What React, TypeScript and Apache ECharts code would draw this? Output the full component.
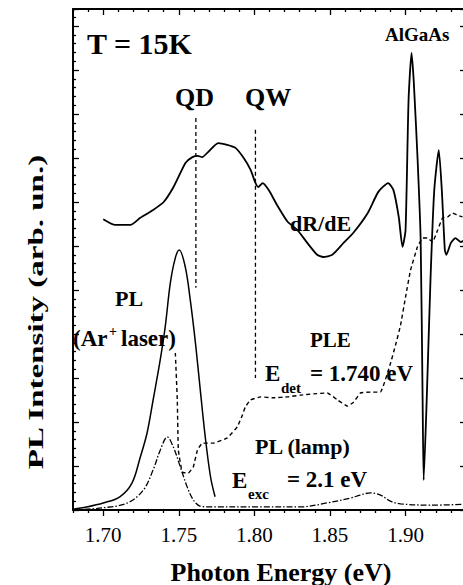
import React, { useEffect, useRef } from "react";
import * as echarts from "echarts";

// ---- tick values ----
const xMajorTicks = [1.7, 1.75, 1.8, 1.85, 1.9];
const xMinorTicks = [
  1.68, 1.69, 1.71, 1.72, 1.73, 1.74, 1.76, 1.77, 1.78, 1.79, 1.81, 1.82, 1.83,
  1.84, 1.86, 1.87, 1.88, 1.89, 1.91, 1.92, 1.93, 1.94,
];

// ---- series (photon energy eV, intensity arb. units) ----
const drde: [number, number][] = [
  [1.7, 6.61], [1.708, 6.48], [1.718, 6.48], [1.7245, 6.64], [1.733, 6.82],
  [1.74, 7.0], [1.7465, 7.34], [1.7545, 7.89], [1.759, 8.02], [1.7625, 8.05],
  [1.7655, 8.02], [1.7695, 8.14], [1.776, 8.34], [1.782, 8.3], [1.7875, 8.23],
  [1.7925, 8.02], [1.7975, 7.73], [1.8005, 7.45], [1.8025, 7.34], [1.8055, 7.43],
  [1.8095, 7.27], [1.815, 6.93], [1.822, 6.55], [1.8285, 6.36], [1.835, 6.07],
  [1.8415, 5.8], [1.8455, 5.75], [1.8515, 5.8], [1.859, 6.07], [1.8655, 6.3],
  [1.875, 6.75], [1.882, 7.23], [1.8885, 7.43], [1.892, 7.27], [1.8955, 6.66],
  [1.898, 5.98], [1.9, 6.36], [1.902, 9.32], [1.904, 10.39], [1.9055, 9.7],
  [1.908, 7.95], [1.91, 6.14], [1.9113, 2.5], [1.912, 0.68], [1.914, 2.5],
  [1.9165, 5.23], [1.919, 7.27], [1.922, 8.18], [1.924, 7.27], [1.926, 5.91],
  [1.927, 5.8], [1.93, 6.07], [1.933, 6.18], [1.9365, 6.09], [1.94, 6.15],
];

const plLaser: [number, number][] = [
  [1.68, 0.02], [1.689, 0.07], [1.7, 0.16], [1.711, 0.3], [1.719, 0.61],
  [1.7245, 1.2], [1.729, 1.75], [1.733, 2.5], [1.7377, 3.41], [1.741, 4.16],
  [1.7444, 5.16], [1.7477, 5.73], [1.7503, 5.91], [1.7543, 5.52], [1.7576, 4.77],
  [1.761, 3.8], [1.7642, 2.73], [1.7675, 1.66], [1.771, 0.75], [1.774, 0.3],
];

const plLamp: [number, number][] = [
  [1.68, 0.0], [1.7, 0.05], [1.716, 0.16], [1.7265, 0.45], [1.733, 0.91],
  [1.7377, 1.36], [1.7424, 1.66], [1.7464, 1.43], [1.751, 0.98], [1.7556, 0.52],
  [1.7596, 0.23], [1.764, 0.09], [1.771, 0.07], [1.804, 0.07], [1.8305, 0.07],
  [1.848, 0.16], [1.8636, 0.27], [1.87, 0.34], [1.8768, 0.39], [1.8834, 0.34],
  [1.89, 0.2], [1.8967, 0.14], [1.9166, 0.11], [1.94, 0.13],
];

const ple: [number, number][] = [
  [1.7477, 3.57], [1.749, 2.5], [1.7497, 1.36], [1.7523, 0.86], [1.7563, 0.84],
  [1.7596, 0.98], [1.7623, 1.36], [1.7656, 1.52], [1.7728, 1.52], [1.7821, 1.64],
  [1.7887, 1.89], [1.7921, 2.16], [1.794, 2.34], [1.7974, 2.5], [1.804, 2.57],
  [1.8126, 2.55], [1.8219, 2.57], [1.8305, 2.61], [1.8391, 2.64], [1.8483, 2.66],
  [1.855, 2.5], [1.8616, 2.36], [1.8656, 2.45], [1.8702, 2.66], [1.8768, 2.68],
  [1.8834, 2.68], [1.8901, 3.34], [1.8934, 3.75], [1.8967, 4.2], [1.9, 4.84],
  [1.9033, 5.45], [1.9079, 5.98], [1.9113, 6.18], [1.9146, 6.18], [1.9179, 6.09],
  [1.9212, 6.36], [1.9245, 6.64], [1.9278, 6.66], [1.9311, 6.75], [1.9344, 6.7],
  [1.9377, 6.66],
];

const qdMarker: [number, number][] = [[1.7613, 8.91], [1.7613, 5.05]];
const qwMarker: [number, number][] = [[1.8007, 8.64], [1.8007, 3.0]];

const SERIF = '"Liberation Serif", "Times New Roman", serif';

function txt(
  text: string,
  x: number,
  y: number,
  size: number,
  extra: any = {}
) {
  const { bold = true, align = "left", ...rest } = extra;
  return {
    type: "text",
    x,
    y,
    ...rest,
    style: {
      text,
      font: `${bold ? "bold " : ""}${size}px ${SERIF}`,
      fill: "#000",
      textAlign: align,
      textVerticalAlign: "middle",
    },
  };
}

export default function App() {
  const ref = useRef<HTMLDivElement>(null);
  useEffect(() => {
    if (!ref.current) return;
    const chart = echarts.init(ref.current, undefined, { renderer: "svg" });
    const lineCommon = {
      type: "line",
      showSymbol: false,
      symbol: "none",
      xAxisIndex: 0,
      yAxisIndex: 0,
      silent: true,
    };
    const axisLine = { show: true, onZero: false, lineStyle: { color: "#000", width: 2 } };
    const noLine = { show: false, onZero: false };
    const tickStyle = { color: "#000", width: 1.3 };
    const xBase = { type: "value", min: 1.68, max: 1.94, splitLine: { show: false } };
    const yBase = {
      type: "value",
      min: 0,
      max: 11.386,
      interval: 1,
      axisLine,
      axisTick: { show: true, inside: true, length: 6, lineStyle: tickStyle },
      minorTick: { show: true, splitNumber: 5, length: 3, lineStyle: tickStyle },
      axisLabel: { show: false },
      splitLine: { show: false },
      minorSplitLine: { show: false },
    };
    chart.setOption({
      animation: false,
      backgroundColor: "#fff",
      grid: {
        left: 73,
        top: 9,
        width: 393,
        height: 501,
        containLabel: false,
        outerBoundsMode: "none",
      },
      xAxis: [
        {
          ...xBase,
          position: "bottom",
          axisLine,
          axisTick: {
            show: true,
            inside: false,
            length: 6,
            customValues: xMajorTicks,
            lineStyle: tickStyle,
          },
          axisLabel: {
            show: true,
            customValues: xMajorTicks,
            formatter: (v: number) => v.toFixed(2),
            fontFamily: SERIF,
            fontSize: 21,
            color: "#000",
            margin: 14,
          },
        },
        {
          ...xBase,
          position: "bottom",
          axisLine: noLine,
          axisTick: {
            show: true,
            inside: false,
            length: 3,
            customValues: xMinorTicks,
            lineStyle: tickStyle,
          },
          axisLabel: { show: false },
        },
        {
          ...xBase,
          position: "top",
          axisLine,
          axisTick: {
            show: true,
            inside: true,
            length: 6,
            customValues: xMajorTicks,
            lineStyle: tickStyle,
          },
          axisLabel: { show: false },
        },
        {
          ...xBase,
          position: "top",
          axisLine: noLine,
          axisTick: {
            show: true,
            inside: true,
            length: 3,
            customValues: xMinorTicks,
            lineStyle: tickStyle,
          },
          axisLabel: { show: false },
        },
      ],
      yAxis: [
        { ...yBase, position: "left" },
        { ...yBase, position: "right" },
      ],
      series: [
        {
          ...lineCommon,
          name: "dR/dE",
          data: drde,
          smooth: 0.2,
          lineStyle: { color: "#000", width: 1.8 },
        },
        {
          ...lineCommon,
          name: "PL (Ar+ laser)",
          data: plLaser,
          smooth: 0.35,
          lineStyle: { color: "#000", width: 1.5 },
        },
        {
          ...lineCommon,
          name: "PL (lamp)",
          data: plLamp,
          smooth: 0.35,
          lineStyle: { color: "#000", width: 1.3, type: [6, 2, 1.5, 2] },
        },
        {
          ...lineCommon,
          name: "PLE",
          data: ple,
          smooth: 0.1,
          lineStyle: { color: "#000", width: 1.4, type: [4, 3] },
        },
        {
          ...lineCommon,
          name: "QD",
          data: qdMarker,
          lineStyle: { color: "#000", width: 1.3, type: [4, 3] },
        },
        {
          ...lineCommon,
          name: "QW",
          data: qwMarker,
          lineStyle: { color: "#000", width: 1.3, type: [4, 3] },
        },
      ],
      graphic: [
        txt("T = 15K", 87, 43, 30),
        txt("AlGaAs", 385, 34, 19),
        txt("QD", 175, 97, 26),
        txt("QW", 245, 97, 26),
        txt("dR/dE", 290, 223, 22),
        txt("PL", 115, 298, 22),
        txt("(Ar", 73, 338, 23),
        txt("+", 109, 331, 14),
        txt("laser)", 121, 338, 23),
        txt("PLE", 310, 340, 21),
        txt("E", 265, 373, 23),
        txt("det", 281, 388, 15),
        txt("= 1.740 eV", 310, 373, 23),
        txt("PL (lamp)", 255, 446, 22),
        txt("E", 232, 480, 23),
        txt("exc", 248, 494, 15),
        txt("= 2.1 eV", 287, 479, 23),
        txt("Photon Energy (eV)", 281, 572, 26, { align: "center" }),
        txt("PL Intensity (arb. un.)", 36, 312, 22, {
          align: "center",
          rotation: Math.PI / 2,
          scaleX: 1.5,
        }),
      ],
    });
    return () => chart.dispose();
  }, []);
  return (
    <div
      ref={ref}
      style={{ position: "absolute", left: 0, top: 0, width: 463, height: 585 }}
    />
  );
}
